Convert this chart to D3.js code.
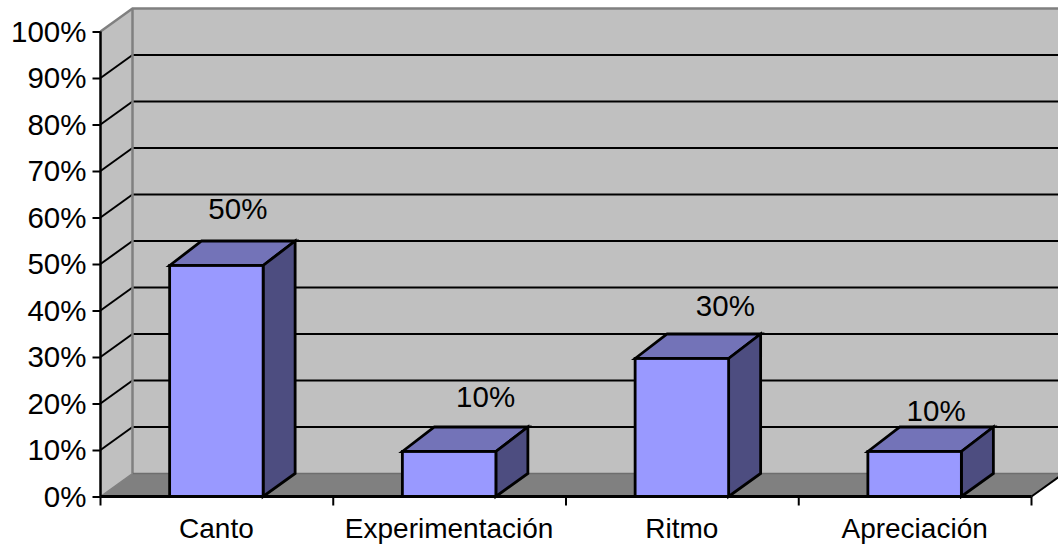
<!DOCTYPE html>
<html><head><meta charset="utf-8">
<script src="https://cdn.jsdelivr.net/npm/d3@7"></script>
<style>html,body{margin:0;padding:0;background:#fff}svg{display:block}text{font-family:"Liberation Sans",Arial,sans-serif;fill:#000}</style>
</head><body><svg id="c" width="1058" height="546"></svg>
<script>
const categories = ["Canto","Experimentación","Ritmo","Apreciación"];
const values = [50,10,30,10];
const valueLabels = ["50%","10%","30%","10%"];
const tickValues = [0,10,20,30,40,50,60,70,80,90,100];

const W=1058,H=546,dx=32,dy=-23,FS=29.5;
const svg=d3.select("#c");
const x=d3.scaleBand().domain(categories).range([100.5,1031.5]);
const y=d3.scaleLinear().domain([0,100]).range([496.5,31.5]);
const path=p=>"M"+p.map(d=>d.join(",")).join("L")+"Z";
const x0=x.range()[0],x1=x.range()[1],y0=y(0),y1=y(100);

// walls and floor
svg.append("path").attr("d",path([[x0,y0],[x0+dx,y0+dy],[x0+dx,y1+dy],[x0,y1]])).attr("fill","#c0c0c0");
svg.append("path").attr("d",path([[x0+dx,y0+dy],[W+5,y0+dy],[W+5,y1+dy],[x0+dx,y1+dy]])).attr("fill","#c0c0c0");
svg.append("path").attr("d",path([[x0,y0],[x0+dx,y0+dy],[x1+dx,y0+dy],[x1,y0]])).attr("fill","#808080");

// gridlines
const gy=tickValues.filter(v=>v>0&&v<100);
svg.selectAll(".gh").data(gy).join("line").attr("x1",x0+dx).attr("x2",W).attr("y1",d=>y(d)+dy).attr("y2",d=>y(d)+dy).attr("stroke","#000").attr("stroke-width",2);
svg.selectAll(".gs").data(gy).join("line").attr("x1",x0).attr("x2",x0+dx).attr("y1",d=>y(d)).attr("y2",d=>y(d)+dy).attr("stroke","#000").attr("stroke-width",2);
// grey frame edges
const grey="#808080";
svg.append("path").attr("d",`M${x0},${y1}L${x0+dx},${y1+dy}L${W},${y1+dy}`).attr("fill","none").attr("stroke",grey).attr("stroke-width",2.5);
svg.append("line").attr("x1",x0+dx).attr("x2",x0+dx).attr("y1",y1+dy).attr("y2",y0+dy).attr("stroke",grey).attr("stroke-width",2.5);
svg.append("line").attr("x1",x0+dx).attr("x2",W).attr("y1",y0+dy).attr("y2",y0+dy).attr("stroke","#6e6e6e").attr("stroke-width",1.5);
svg.append("line").attr("x1",x0).attr("x2",x0+dx).attr("y1",y0).attr("y2",y0+dy).attr("stroke",grey).attr("stroke-width",1.5);

// bars: the front face top sits just under the nominal value line, the back edge on it
const bw=93.5, topInset=1.5;
const bars=svg.selectAll(".bar").data(categories.map((c,i)=>({c,v:values[i]}))).join("g");
const xl=d=>x(d.c)+(x.bandwidth()-bw)/2-0.5;
const yt=d=>y(d.v)+topInset;
const yb=d=>y(d.v)+dy;
bars.append("path").attr("d",d=>path([[xl(d),yt(d)],[xl(d)+dx,yb(d)],[xl(d)+bw+dx,yb(d)],[xl(d)+bw,yt(d)]])).attr("fill","#7373b8");
bars.append("path").attr("d",d=>path([[xl(d)+bw,yt(d)],[xl(d)+bw+dx,yb(d)],[xl(d)+bw+dx,y0+dy],[xl(d)+bw,y0]])).attr("fill","#4d4d80");
bars.append("rect").attr("x",xl).attr("y",yt).attr("width",bw).attr("height",d=>y0-yt(d)).attr("fill","#9999ff");
bars.selectAll("path,rect").attr("stroke","#000").attr("stroke-width",2.8).attr("stroke-linejoin","miter");

// axes
const ax=svg.append("g").attr("transform",`translate(${x0},0)`)
  .call(d3.axisLeft(y).tickValues(tickValues).tickFormat(d=>d+"%").tickSize(8).tickPadding(6));
ax.select(".domain").attr("d",`M0,${y1}V${y0}`).attr("stroke","#000").attr("stroke-width",2.5);
ax.selectAll("line").attr("stroke","#000").attr("stroke-width",2);
ax.selectAll("text").attr("font-size",FS).attr("dy","0.33em");

const bg=svg.append("g").attr("transform",`translate(0,${y0})`);
bg.append("line").attr("x1",x0).attr("x2",x1).attr("stroke","#000").attr("stroke-width",3);
const edges=d3.range(categories.length+1).map(i=>x0+i*x.bandwidth());
bg.selectAll(".t").data(edges).join("line").attr("x1",d=>d).attr("x2",d=>d).attr("y1",0).attr("y2",9).attr("stroke","#000").attr("stroke-width",2);
svg.append("line").attr("x1",x1).attr("x2",x1+dx).attr("y1",y0).attr("y2",y0+dy).attr("stroke","#000").attr("stroke-width",2);
svg.selectAll(".cat").data(categories).join("text").attr("x",d=>x(d)+x.bandwidth()/2-0.5).attr("y",537.5).attr("text-anchor","middle").attr("font-size",28).text(d=>d);

// value labels (Excel-style offsets above the 3D bar tops)
const labelShift=[[21,-45],[36,-43],[43,-41],[21,-29]];
svg.selectAll(".vl").data(values).join("text")
  .attr("x",(d,i)=>x(categories[i])+x.bandwidth()/2+labelShift[i][0])
  .attr("y",(d,i)=>y(d)+labelShift[i][1])
  .attr("text-anchor","middle").attr("font-size",FS).text((d,i)=>valueLabels[i]);
</script></body></html>
